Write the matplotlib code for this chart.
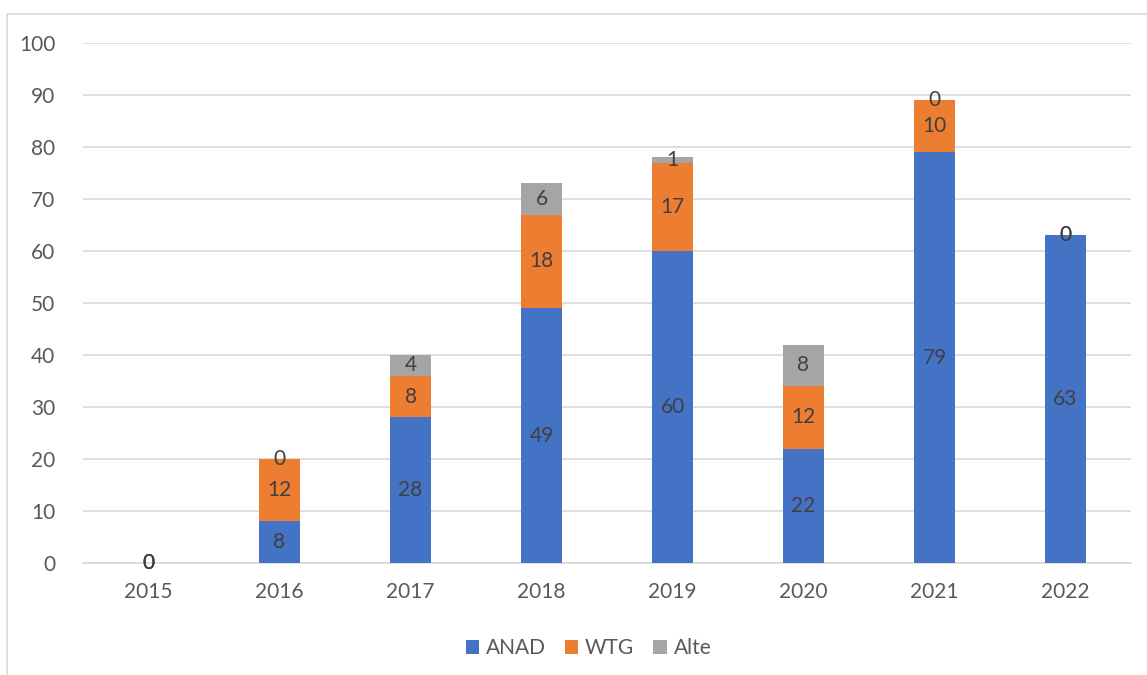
import numpy as np
import matplotlib.pyplot as plt
from matplotlib.patches import Rectangle

years = ["2015", "2016", "2017", "2018", "2019", "2020", "2021", "2022"]
anad = [0, 8, 28, 49, 60, 22, 79, 63]
wtg = [0, 12, 8, 18, 17, 12, 10, 0]
alte = [0, 0, 4, 6, 1, 8, 0, 0]

series = [("ANAD", anad, "#4472C4"), ("WTG", wtg, "#ED7D31"), ("Alte", alte, "#A5A5A5")]

plt.rcParams["font.family"] = ["Lato", "DejaVu Sans"]

fig = plt.figure(figsize=(11.47, 6.75), dpi=100)
# light outer chart border
fig.patches.append(Rectangle((7 / 1147, -0.01), 1.02, 1 - 14 / 675 + 0.01,
                             transform=fig.transFigure, fill=False,
                             edgecolor="#D9D9D9", linewidth=1.2))
ax = fig.add_axes([83 / 1147, 1 - 563 / 675, (1131 - 83) / 1147, (563 - 43) / 675])

x = np.arange(len(years))
bottom = np.zeros(len(years))
for name, vals, color in series:
    vals = np.array(vals, dtype=float)
    ax.bar(x, vals, 0.31, bottom=bottom, color=color, label=name, zorder=3)
    for xi, b, v in zip(x, bottom, vals):
        ax.text(xi, b + v / 2, f"{int(v)}", ha="center", va="center",
                fontsize=15, color="#404040", zorder=4)
    bottom += vals

ax.set_xlim(-0.5, len(years) - 0.5)
ax.set_ylim(0, 100)
ax.set_yticks(range(0, 101, 10))
ax.set_xticks(x)
ax.set_xticklabels(years)
ax.tick_params(length=0, labelsize=15, labelcolor="#595959")
ax.tick_params(axis="x", pad=14)
ax.tick_params(axis="y", pad=20)
ax.yaxis.grid(True, color="#D9D9D9", linewidth=1.2, zorder=0)
for s in ["top", "right", "left"]:
    ax.spines[s].set_visible(False)
ax.spines["bottom"].set_color("#D9D9D9")
ax.spines["bottom"].set_linewidth(1.2)

fig.legend(loc="center", bbox_to_anchor=(0.513, 1 - 648 / 675), ncol=3, frameon=False,
           fontsize=15, labelcolor="#595959", handlelength=0.65, handleheight=0.65,
           handletextpad=0.33, columnspacing=0.9)

fig.savefig("out.png", dpi=100)
